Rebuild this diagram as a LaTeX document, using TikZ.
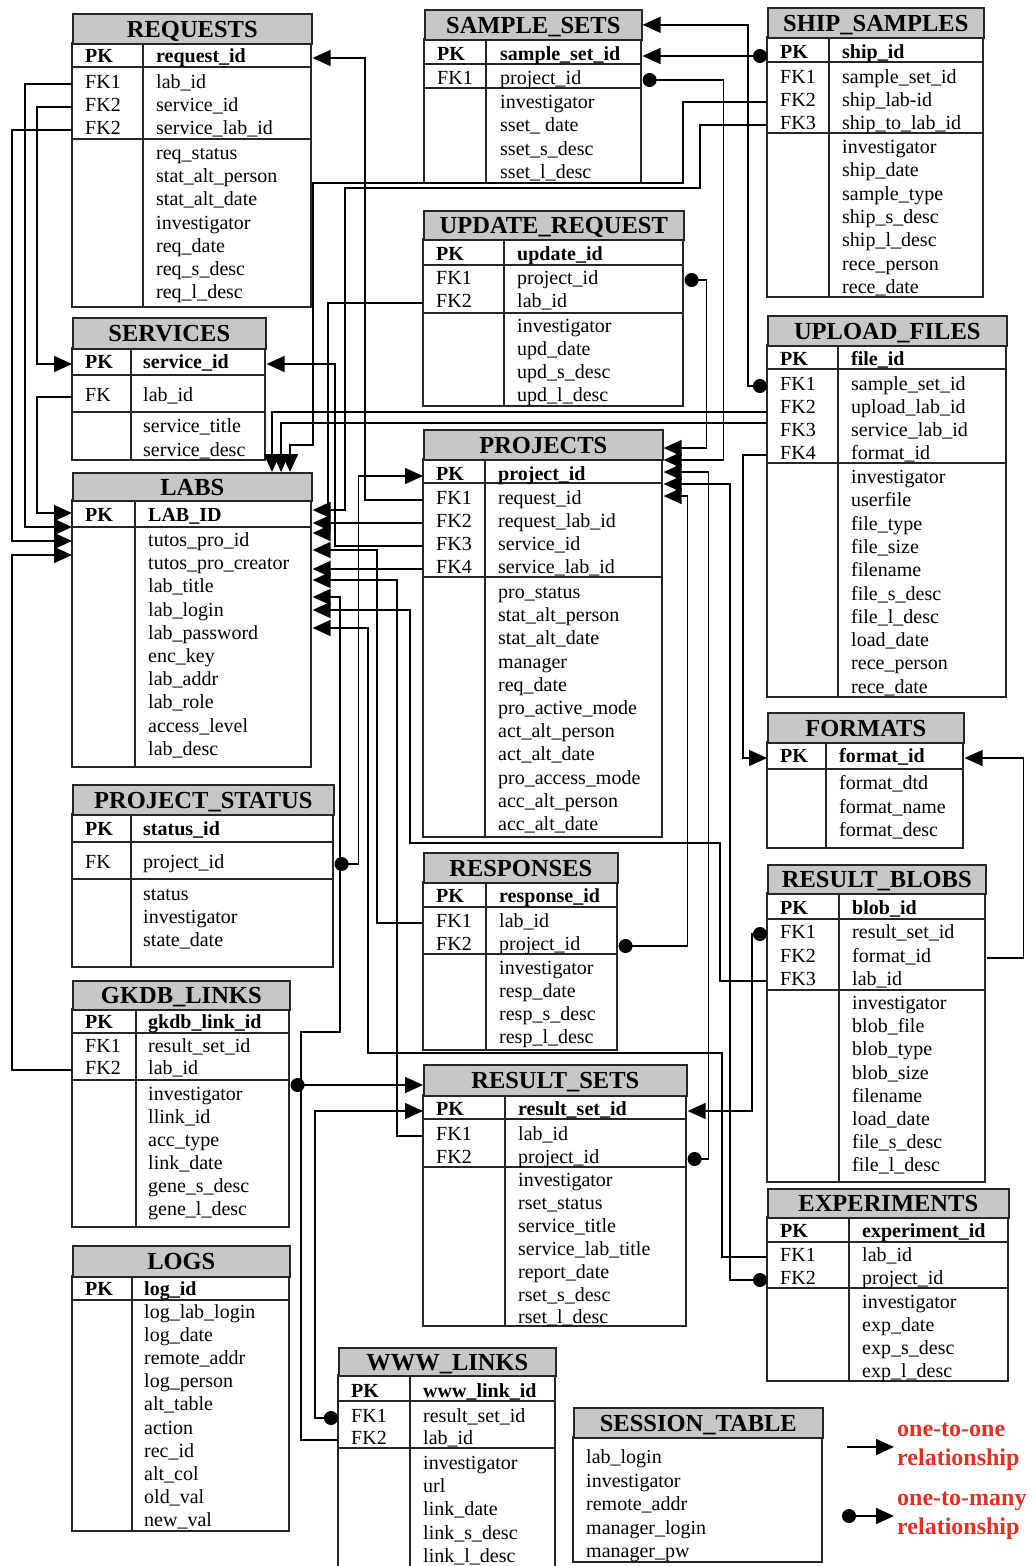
\documentclass[tikz,border=0pt]{standalone}
\usepackage{fontspec}
\setmainfont{Liberation Serif}
\usetikzlibrary{arrows.meta,calc}
\definecolor{legendred}{RGB}{228,48,36}
\tikzstyle{tabline}=[line width=1.6pt,draw=black!85]
\tikzstyle{tabtitle}=[rectangle,draw=black!85,line width=1.6pt,fill=black!22,inner sep=0pt,text height=17pt,text depth=0pt,font=\fontsize{24.5}{28}\selectfont\bfseries]
\tikzstyle{fieldtxt}=[anchor=west,inner sep=0pt,text height=14pt,text depth=5pt,yshift=-3pt,font=\fontsize{20}{24}\selectfont]
\tikzstyle{fieldb}=[fieldtxt,font=\fontsize{20}{24}\selectfont\bfseries]
\tikzstyle{keycell}=[fieldtxt]
\tikzstyle{keyb}=[fieldb]
\tikzstyle{link}=[draw,line width=1.6pt]
\tikzstyle{onelink}=[link,-{Triangle[length=18pt,width=16pt]}]
\tikzstyle{manylink}=[link,{Circle[length=14pt]}-{Triangle[length=18pt,width=16pt]}]
\tikzstyle{legendtxt}=[anchor=west,align=left,inner sep=3pt,text=legendred,font=\fontsize{24}{29}\selectfont\bfseries]

\begin{document}
\begin{tikzpicture}[x=1pt,y=-1pt]
    \useasboundingbox (0,0) rectangle (1035,1566);
    \fill[white] (0,0) rectangle (1035,1566);

    % table bodies: left/divider/right/top/pk line/fk line/bottom
    \foreach \x/\xd/\xx/\yb/\yp/\yf/\ye in {72/143/311/43/67/139/307, 72/131/265/348/375/412/460, 72/135/311/500/527/527/767, 72/131/333/814/842/879/967, 72/136/289/1009/1033/1080/1227, 72/132/289/1276/1300/1300/1531, 424/486/641/39/64/88/183, 423/504/683/239/265/313/406, 423/485/662/459/483/577/837, 423/486/617/882/907/954/1050, 423/505/686/1095/1119/1167/1326, 338/410/555/1375/1401/1448/1575, 767/829/983/37/62/133/297, 767/838/1006/345/369/463/697, 767/826/963/742/769/769/848, 767/839/985/893/919/990/1182, 767/849/1008/1217/1242/1288/1381}
        \draw[tabline] (\x,\yb) rectangle (\xx,\ye) (\x,\yp) -- (\xx,\yp) (\x,\yf) -- (\xx,\yf) (\xd,\yb) -- (\xd,\ye);
    \draw[tabline] (573,1437) rectangle (822,1562);

    % table titles
    \foreach \x/\xx/\yt/\yb/\name/\title in {72/311/13/43/rq/REQUESTS, 72/265/317/348/sv/SERVICES, 72/311/472/500/lb/LABS, 72/333/784/814/ps/PROJECT\_STATUS, 72/289/980/1009/gk/GKDB\_LINKS, 72/289/1245/1276/lg/LOGS, 424/641/9/39/ss/SAMPLE\_SETS, 423/683/210/239/ur/UPDATE\_REQUEST, 423/662/429/459/pj/PROJECTS, 423/617/852/882/rp/RESPONSES, 423/686/1064/1095/rs/RESULT\_SETS, 338/555/1347/1375/ww/WWW\_LINKS, 573/822/1407/1437/st/SESSION\_TABLE, 767/983/7/37/sh/SHIP\_SAMPLES, 767/1006/315/345/up/UPLOAD\_FILES, 767/963/712/742/fm/FORMATS, 767/985/864/893/rb/RESULT\_BLOBS, 767/1008/1188/1217/ex/EXPERIMENTS}
        \node[tabtitle,minimum width={\xx-\x},minimum height={\yb-\yt},anchor=north west] (\name) at (\x,\yt) {\title};

    % REQUESTS
    \node[keyb] (rq-k0) at (85,55) {PK};
    \node[fieldb] (rq-f0) at (156,55) {request\_id};
    \foreach \y/\k/\f [count=\i] in {81/FK1/lab\_id, 104/FK2/service\_id, 127/FK2/service\_lab\_id} {
        \node[keycell] (rq-k\i) at (85,\y) {\k};
        \node[fieldtxt] (rq-f\i) at (156,\y) {\f};
    }
    \foreach \f [count=\i] in {req\_status, stat\_alt\_person, stat\_alt\_date, investigator, req\_date, req\_s\_desc, req\_l\_desc}
        \node[fieldtxt] (rq-a\i) at (156,{152+(\i-1)*23.2}) {\f};

    % SERVICES
    \node[keyb] (sv-k0) at (85,361) {PK};
    \node[fieldb] (sv-f0) at (143,361) {service\_id};
    \node[keycell] (sv-k1) at (85,394) {FK};
    \node[fieldtxt] (sv-f1) at (143,394) {lab\_id};
    \foreach \f [count=\i] in {service\_title, service\_desc}
        \node[fieldtxt] (sv-a\i) at (143,{425+(\i-1)*24}) {\f};

    % LABS
    \node[keyb] (lb-k0) at (85,514) {PK};
    \node[fieldb] (lb-f0) at (148,514) {LAB\_ID};
    \foreach \f [count=\i] in {tutos\_pro\_id, tutos\_pro\_creator, lab\_title, lab\_login, lab\_password, enc\_key, lab\_addr, lab\_role, access\_level, lab\_desc}
        \node[fieldtxt] (lb-a\i) at (148,{539+(\i-1)*23.2}) {\f};

    % PROJECT_STATUS
    \node[keyb] (ps-k0) at (85,828) {PK};
    \node[fieldb] (ps-f0) at (143,828) {status\_id};
    \node[keycell] (ps-k1) at (85,861) {FK};
    \node[fieldtxt] (ps-f1) at (143,861) {project\_id};
    \foreach \f [count=\i] in {status, investigator, state\_date}
        \node[fieldtxt] (ps-a\i) at (143,{893+(\i-1)*23}) {\f};

    % GKDB_LINKS
    \node[keyb] (gk-k0) at (85,1021) {PK};
    \node[fieldb] (gk-f0) at (148,1021) {gkdb\_link\_id};
    \foreach \y/\k/\f [count=\i] in {1045/FK1/result\_set\_id, 1067/FK2/lab\_id} {
        \node[keycell] (gk-k\i) at (85,\y) {\k};
        \node[fieldtxt] (gk-f\i) at (148,\y) {\f};
    }
    \foreach \f [count=\i] in {investigator, llink\_id, acc\_type, link\_date, gene\_s\_desc, gene\_l\_desc}
        \node[fieldtxt] (gk-a\i) at (148,{1093+(\i-1)*23}) {\f};

    % LOGS
    \node[keyb] (lg-k0) at (85,1288) {PK};
    \node[fieldb] (lg-f0) at (144,1288) {log\_id};
    \foreach \f [count=\i] in {log\_lab\_login, log\_date, remote\_addr, log\_person, alt\_table, action, rec\_id, alt\_col, old\_val, new\_val}
        \node[fieldtxt] (lg-a\i) at (144,{1311+(\i-1)*23.1}) {\f};

    % SAMPLE_SETS
    \node[keyb] (ss-k0) at (437,53) {PK};
    \node[fieldb] (ss-f0) at (500,53) {sample\_set\_id};
    \node[keycell] (ss-k1) at (437,77) {FK1};
    \node[fieldtxt] (ss-f1) at (500,77) {project\_id};
    \foreach \f [count=\i] in {investigator, sset\_ date, sset\_s\_desc, sset\_l\_desc}
        \node[fieldtxt] (ss-a\i) at (500,{101+(\i-1)*23.3}) {\f};

    % UPDATE_REQUEST
    \node[keyb] (ur-k0) at (436,253) {PK};
    \node[fieldb] (ur-f0) at (517,253) {update\_id};
    \foreach \y/\k/\f [count=\i] in {277/FK1/project\_id, 300/FK2/lab\_id} {
        \node[keycell] (ur-k\i) at (436,\y) {\k};
        \node[fieldtxt] (ur-f\i) at (517,\y) {\f};
    }
    \foreach \f [count=\i] in {investigator, upd\_date, upd\_s\_desc, upd\_l\_desc}
        \node[fieldtxt] (ur-a\i) at (517,{325+(\i-1)*23}) {\f};

    % PROJECTS
    \node[keyb] (pj-k0) at (436,473) {PK};
    \node[fieldb] (pj-f0) at (498,473) {project\_id};
    \foreach \y/\k/\f [count=\i] in {497/FK1/request\_id, 520/FK2/request\_lab\_id, 543/FK3/service\_id, 566/FK4/service\_lab\_id} {
        \node[keycell] (pj-k\i) at (436,\y) {\k};
        \node[fieldtxt] (pj-f\i) at (498,\y) {\f};
    }
    \foreach \f [count=\i] in {pro\_status, stat\_alt\_person, stat\_alt\_date, manager, req\_date, pro\_active\_mode, act\_alt\_person, act\_alt\_date, pro\_access\_mode, acc\_alt\_person, acc\_alt\_date}
        \node[fieldtxt] (pj-a\i) at (498,{591+(\i-1)*23.2}) {\f};

    % RESPONSES
    \node[keyb] (rp-k0) at (436,895) {PK};
    \node[fieldb] (rp-f0) at (499,895) {response\_id};
    \foreach \y/\k/\f [count=\i] in {920/FK1/lab\_id, 943/FK2/project\_id} {
        \node[keycell] (rp-k\i) at (436,\y) {\k};
        \node[fieldtxt] (rp-f\i) at (499,\y) {\f};
    }
    \foreach \f [count=\i] in {investigator, resp\_date, resp\_s\_desc, resp\_l\_desc}
        \node[fieldtxt] (rp-a\i) at (499,{967+(\i-1)*23}) {\f};

    % RESULT_SETS
    \node[keyb] (rs-k0) at (436,1108) {PK};
    \node[fieldb] (rs-f0) at (518,1108) {result\_set\_id};
    \foreach \y/\k/\f [count=\i] in {1133/FK1/lab\_id, 1156/FK2/project\_id} {
        \node[keycell] (rs-k\i) at (436,\y) {\k};
        \node[fieldtxt] (rs-f\i) at (518,\y) {\f};
    }
    \foreach \f [count=\i] in {investigator, rset\_status, service\_title, service\_lab\_title, report\_date, rset\_s\_desc, rset\_l\_desc}
        \node[fieldtxt] (rs-a\i) at (518,{1179+(\i-1)*22.9}) {\f};

    % WWW_LINKS
    \node[keyb] (ww-k0) at (351,1390) {PK};
    \node[fieldb] (ww-f0) at (423,1390) {www\_link\_id};
    \foreach \y/\k/\f [count=\i] in {1415/FK1/result\_set\_id, 1437/FK2/lab\_id} {
        \node[keycell] (ww-k\i) at (351,\y) {\k};
        \node[fieldtxt] (ww-f\i) at (423,\y) {\f};
    }
    \foreach \f [count=\i] in {investigator, url, link\_date, link\_s\_desc, link\_l\_desc}
        \node[fieldtxt] (ww-a\i) at (423,{1462+(\i-1)*23.2}) {\f};

    % SESSION_TABLE
    \foreach \f [count=\i] in {lab\_login, investigator, remote\_addr, manager\_login, manager\_pw}
        \node[fieldtxt] (st-a\i) at (586,{1456+(\i-1)*23.5}) {\f};

    % SHIP_SAMPLES
    \node[keyb] (sh-k0) at (780,51) {PK};
    \node[fieldb] (sh-f0) at (842,51) {ship\_id};
    \foreach \y/\k/\f [count=\i] in {76/FK1/sample\_set\_id, 99/FK2/ship\_lab-id, 122/FK3/ship\_to\_lab\_id} {
        \node[keycell] (sh-k\i) at (780,\y) {\k};
        \node[fieldtxt] (sh-f\i) at (842,\y) {\f};
    }
    \foreach \f [count=\i] in {investigator, ship\_date, sample\_type, ship\_s\_desc, ship\_l\_desc, rece\_person, rece\_date}
        \node[fieldtxt] (sh-a\i) at (842,{146+(\i-1)*23.3}) {\f};

    % UPLOAD_FILES
    \node[keyb] (up-k0) at (780,358) {PK};
    \node[fieldb] (up-f0) at (851,358) {file\_id};
    \foreach \y/\k/\f [count=\i] in {383/FK1/sample\_set\_id, 406/FK2/upload\_lab\_id, 429/FK3/service\_lab\_id, 452/FK4/format\_id} {
        \node[keycell] (up-k\i) at (780,\y) {\k};
        \node[fieldtxt] (up-f\i) at (851,\y) {\f};
    }
    \foreach \f [count=\i] in {investigator, userfile, file\_type, file\_size, filename, file\_s\_desc, file\_l\_desc, load\_date, rece\_person, rece\_date}
        \node[fieldtxt] (up-a\i) at (851,{476+(\i-1)*23.3}) {\f};

    % FORMATS
    \node[keyb] (fm-k0) at (780,755) {PK};
    \node[fieldb] (fm-f0) at (839,755) {format\_id};
    \foreach \f [count=\i] in {format\_dtd, format\_name, format\_desc}
        \node[fieldtxt] (fm-a\i) at (839,{782+(\i-1)*23.5}) {\f};

    % RESULT_BLOBS
    \node[keyb] (rb-k0) at (780,907) {PK};
    \node[fieldb] (rb-f0) at (852,907) {blob\_id};
    \foreach \y/\k/\f [count=\i] in {931/FK1/result\_set\_id, 955/FK2/format\_id, 978/FK3/lab\_id} {
        \node[keycell] (rb-k\i) at (780,\y) {\k};
        \node[fieldtxt] (rb-f\i) at (852,\y) {\f};
    }
    \foreach \f [count=\i] in {investigator, blob\_file, blob\_type, blob\_size, filename, load\_date, file\_s\_desc, file\_l\_desc}
        \node[fieldtxt] (rb-a\i) at (852,{1002+(\i-1)*23.2}) {\f};

    % EXPERIMENTS
    \node[keyb] (ex-k0) at (780,1230) {PK};
    \node[fieldb] (ex-f0) at (862,1230) {experiment\_id};
    \foreach \y/\k/\f [count=\i] in {1254/FK1/lab\_id, 1277/FK2/project\_id} {
        \node[keycell] (ex-k\i) at (780,\y) {\k};
        \node[fieldtxt] (ex-f\i) at (862,\y) {\f};
    }
    \foreach \f [count=\i] in {investigator, exp\_date, exp\_s\_desc, exp\_l\_desc}
        \node[fieldtxt] (ex-a\i) at (862,{1301+(\i-1)*23}) {\f};

    % entry points on LABS, PROJECTS and RESULT_SETS
    \foreach \n/\y in {1/513, 2/527, 3/541, 4/555}
        \coordinate (lbL\n) at (lb.west |- 0,\y);
    \foreach \n/\y in {1/510, 3/533, 4/550, 6/580, 7/597, 8/610, 9/628}
        \coordinate (lbR\n) at (lb.east |- 0,\y);
    \foreach \n/\x in {1/272, 2/281, 3/290}
        \coordinate (lbT\n) at (\x,0 |- lb.north);
    \foreach \n/\y in {1/448, 2/460, 3/472, 4/484, 5/496}
        \coordinate (pjR\n) at (pj.east |- 0,\y);
    \coordinate (rsL1) at (rs.west |- 0,1085);

    % left lanes
    \draw[onelink] (rq-f1 -| rq.west) -- ++(-47,0) |- (lbL2);
    \draw[onelink] (rq-f2 -| rq.west) -- ++(-35,0) |- (sv-f0 -| sv.west);
    \draw[onelink] (rq-f3 -| rq.west) -- ++(-60,0) |- (lbL3);
    \draw[onelink] (sv-f1 -| sv.west) -- ++(-35,0) |- (lbL1);
    \draw[onelink] (gk-f2 -| gk.west) -- ++(-60,0) |- (lbL4);

    % middle lanes
    \draw[onelink] (pj-f1 -| pj.west) -- ++(-58,0) |- (rq-f0 -| rq.east);
    \draw[onelink] (pj-f2 -| pj.west) -- (pj-f2 -| lb.east);
    \draw[onelink] (pj-f3 -| pj.west) -- ++(-88,0) |- (sv-f0 -| sv.east);
    \draw[onelink] (pj-f4 -| pj.west) -- (pj-f4 -| lb.east);
    \draw[manylink] (ps-f1 -| ps.east) -- ++(24,0) |- (pj-f0 -| pj.west);
    \draw[onelink] (rp-f1 -| rp.west) -- ++(-46,0) |- (lbR4);
    \draw[onelink] (rs-f1 -| rs.west) -- ++(-26,0) |- (lbR6);
    \draw[manylink] (rsL1 -| gk.east) -- (rsL1);
    \draw[manylink] (ww-f1 -| ww.west) -- ++(-23,0) |- (rs-f0 -| rs.west);
    \draw[onelink] (ww-f2 -| ww.west) -- ++(-37,0) -- ++(0,-408) -- ++(39,0) |- (lbR7);
    \draw[onelink] (ur-f2 -| ur.west) -- ++(-95,0) |- (lbR3);

    % top right
    \draw[manylink] (ss-f0 -| sh.west) -- (ss-f0 -| ss.east);
    \draw[manylink] (ss-f1 -| ss.east) -- ++(81,0) |- (pjR2);
    \draw[manylink] (ur-f1 -| ur.east) -- ++(22,0) |- (pjR1);
    \draw[manylink] (up-f1 -| up.west) -- ++(-19,0) |- (ss.east);
    \draw[onelink] (sh-f2 -| sh.west) -- ++(-84,0) |- (313,183) |- (290,445) -- (lbT3);
    \draw[onelink] (sh-f3 -| sh.west) -- ++(-67,0) |- (345,188) |- (lbR1);
    \draw[onelink] ($(up-f2 -| up.west)+(0,3)$) -| (lbT1);
    \draw[onelink] ($(up-f3 -| up.west)+(0,-9)$) -| (lbT2);
    \draw[onelink] (up-f4 -| up.west) -- ++(-24,0) |- (fm-f0 -| fm.west);

    % lower right
    \draw[manylink] (rp-f2 -| rp.east) -- ++(69,0) |- (pjR5);
    \draw[manylink] (rs-f2 -| rs.east) -- ++(21,0) |- (pjR3);
    \draw[manylink] (ex-f2 -| ex.west) -- ++(-37,0) |- (pjR4);
    \draw[manylink] (rb-f1 -| rb.west) -- ++(-15,0) |- (rs-f0 -| rs.east);
    \draw[onelink] (rb-f2 -| rb.east) -- ++(37,0) |- (fm-f0 -| fm.east);
    \draw[onelink] (rb-f3 -| rb.west) -- ++(-47,0) |- (410,843) |- (lbR8);
    \draw[onelink] (ex-f1 -| ex.west) -- ++(-45,0) |- (368,1053) |- (lbR9);

    % legend
    \node[legendtxt] (leg1) at (894,1447) {one-to-one\\relationship};
    \node[legendtxt] (leg2) at (894,1516) {one-to-many\\relationship};
    \coordinate (leg1s) at ($(leg1.west)+(-47,0)$);
    \coordinate (leg2s) at ($(leg2.west)+(-52,0)$);
    \draw[onelink] (leg1s) -- (leg1.west);
    \draw[manylink] (leg2s) -- (leg2.west);
\end{tikzpicture}
\end{document}
